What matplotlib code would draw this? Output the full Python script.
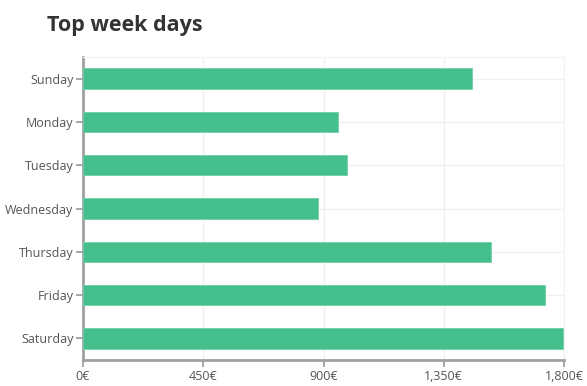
import matplotlib
matplotlib.use("Agg")
import matplotlib.pyplot as plt
from matplotlib.ticker import FuncFormatter

days = ["Sunday", "Monday", "Tuesday", "Wednesday", "Thursday", "Friday", "Saturday"]
values = [1456, 954, 988, 879, 1528, 1730, 1795]
xticks = [0, 450, 900, 1350, 1800]

plt.rcParams['font.family'] = ['Open Sans', 'DejaVu Sans']

fig = plt.figure(figsize=(5.87, 3.86), dpi=100)
ax = fig.add_axes([83/587, 1-360/386, (564-83)/587, (360-57)/386])

ax.barh(range(len(days)), values, height=0.47, color='#44bf8d',
        edgecolor='#6fd0a6', linewidth=0.6, zorder=3)
ax.set_ylim(6.5, -0.5)
ax.set_xlim(0, 1800)
ax.set_yticks(range(len(days)))
ax.set_yticklabels(days)
ax.set_xticks(xticks)
ax.xaxis.set_major_formatter(FuncFormatter(lambda v, p: f"{int(v):,}€"))

ax.grid(True, color='#f0f0f0', linewidth=1, zorder=0)
for s in ['top', 'right']:
    ax.spines[s].set_color('#f4f4f4')
    ax.spines[s].set_linewidth(1)
for s in ['left', 'bottom']:
    ax.spines[s].set_color('#a0a0a0')
    ax.spines[s].set_linewidth(2)
ax.tick_params(axis='both', colors='#a0a0a0', labelcolor='#555555',
               labelsize=9, length=5, width=1.3, pad=2)

fig.text(47/587, 1-25/386, "Top week days", fontsize=15.5, fontweight='bold',
         color='#333333', va='center', ha='left')

fig.savefig("out.png", dpi=100)
